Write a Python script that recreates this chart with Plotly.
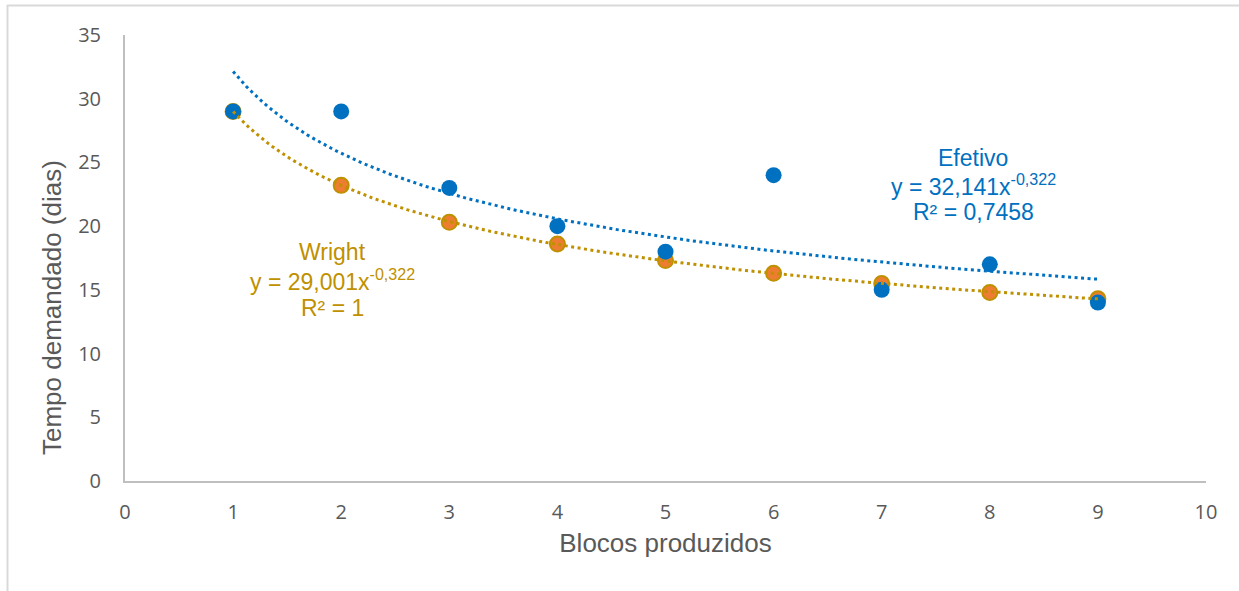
import numpy as np
import plotly.graph_objects as go

blocos = [1, 2, 3, 4, 5, 6, 7, 8, 9]
efetivo = [29, 29, 23, 20, 18, 24, 15, 17, 14]
wright = [29.0, 23.2, 20.3, 18.6, 17.3, 16.3, 15.5, 14.8, 14.3]

# Power trendline coefficients shown on the chart (y = a * x^b)
efetivo_fit = [32.141, -0.322]
wright_fit = [29.001, -0.322]

x_ticks = [0, 1, 2, 3, 4, 5, 6, 7, 8, 9, 10]
y_ticks = [0, 5, 10, 15, 20, 25, 30, 35]

efetivo_label = ["Efetivo", "y = 32,141x<sup>-0,322</sup>", "R² = 0,7458"]
wright_label = ["Wright", "y = 29,001x<sup>-0,322</sup>", "R² = 1"]

BLUE = "#0070C0"
GOLD = "#BF9000"
ORANGE = "#ED7D31"
GREY = "#595959"
TXT_FONT = "Liberation Sans, Arial"

# plot area in pixels (for paper-coordinate conversions)
PL, PR, PT, PB = 125, 1206, 35, 481
PW, PH = PR - PL, PB - PT


def px(xp):
    return (xp - PL) / PW


def py(yp):
    return (PB - yp) / PH


xs = np.linspace(min(blocos), max(blocos), 200)

fig = go.Figure()

fig.add_trace(go.Scatter(
    x=blocos, y=wright, mode="markers", name="Wright",
    marker=dict(size=15, color=ORANGE, line=dict(color=GOLD, width=2)),
))
fig.add_trace(go.Scatter(
    x=blocos, y=efetivo, mode="markers", name="Efetivo",
    marker=dict(size=16, color=BLUE, line=dict(width=0)),
))
fig.add_trace(go.Scatter(
    x=xs, y=wright_fit[0] * xs ** wright_fit[1], mode="lines",
    line=dict(color=GOLD, width=3, dash="3px,3.5px"), hoverinfo="skip",
))
fig.add_trace(go.Scatter(
    x=xs, y=efetivo_fit[0] * xs ** efetivo_fit[1], mode="lines",
    line=dict(color=BLUE, width=3, dash="3px,3.5px"), hoverinfo="skip",
))

# label lines (one annotation per line for Excel-like spacing)
for i, line in enumerate(efetivo_label):
    fig.add_annotation(
        x=7.845, y=25.35 - i * 2.12, xref="x", yref="y", text=line,
        showarrow=False, align="center", xanchor="center", yanchor="middle",
        font=dict(family=TXT_FONT, size=23, color=BLUE),
    )
for i, line in enumerate(wright_label):
    fig.add_annotation(
        x=1.924, y=17.97 - i * 2.2, xref="x", yref="y", text=line,
        showarrow=False, align="center", xanchor="center", yanchor="middle",
        font=dict(family=TXT_FONT, size=23, color=GOLD),
    )

# y-axis title placed like Excel (slightly below plot middle)
fig.add_annotation(
    x=px(52), y=py(308), xref="paper", yref="paper",
    xanchor="center", yanchor="middle",
    text="Tempo demandado (dias)", textangle=-90, showarrow=False,
    font=dict(family=TXT_FONT, size=26, color=GREY),
)

# outer chart border (top and left visible)
fig.add_shape(type="line", xref="paper", yref="paper",
              x0=px(7), x1=px(1245), y0=py(5.5), y1=py(5.5),
              line=dict(color="#D9D9D9", width=2))
fig.add_shape(type="line", xref="paper", yref="paper",
              x0=px(7.5), x1=px(7.5), y0=py(5), y1=py(600),
              line=dict(color="#D9D9D9", width=2))

fig.update_layout(
    width=1239, height=591,
    margin=dict(l=PL, r=1239 - PR, t=PT, b=591 - PB),
    plot_bgcolor="white", paper_bgcolor="white",
    showlegend=False,
    xaxis=dict(
        range=[0, 10], tickvals=x_ticks, showgrid=False, zeroline=False,
        showline=True, linecolor="#BFBFBF", linewidth=2,
        ticks="outside", ticklen=12, tickcolor="rgba(0,0,0,0)",
        tickfont=dict(family="Open Sans", size=20, color=GREY),
        title=dict(text="Blocos produzidos", standoff=10,
                   font=dict(family=TXT_FONT, size=26, color=GREY)),
    ),
    yaxis=dict(
        range=[0, 35], tickvals=y_ticks, showgrid=False, zeroline=False,
        showline=True, linecolor="#BFBFBF", linewidth=2,
        ticks="outside", ticklen=18, tickcolor="rgba(0,0,0,0)",
        tickfont=dict(family="Open Sans", size=20, color=GREY),
    ),
)

fig.write_html("out.html", config={"displayModeBar": False},
               post_script="document.body.style.margin='0';")
